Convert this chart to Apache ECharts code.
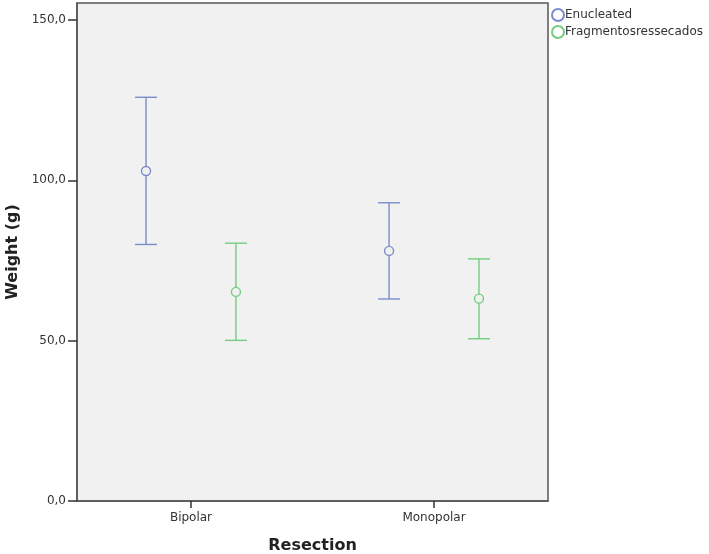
<!DOCTYPE html>
<html>
<head>
<meta charset="utf-8">
<script src="https://cdn.jsdelivr.net/npm/echarts@6/dist/echarts.min.js"></script>
<style>
  html, body { margin: 0; padding: 0; background: #fff; }
  #chart { width: 709px; height: 554px; }
</style>
</head>
<body>
<div id="chart"></div>
<script>
// categories on the x axis
const categories = ["Bipolar", "Monopolar"];
const seriesNames = ["Enucleated", "Fragmentosressecados"];
// mean, lower and upper limits per category
const enucleatedMean = [102.9, 78.0];
const enucleatedLow = [80.0, 63.0];
const enucleatedHigh = [125.9, 93.0];
const fragMean = [65.2, 63.1];
const fragLow = [50.1, 50.6];
const fragHigh = [80.4, 75.5];
const yTicks = [0, 50, 100, 150];

const colors = ["#7B8CCB", "#74CC80"];
const offsets = [-0.185, 0.185];

function buildData(mean, low, high) {
  return categories.map((c, i) => [i + 1, mean[i], low[i], high[i]]);
}

function makeRender(offset) {
  return function (params, api) {
    const x = api.value(0) + offset;
    const mid = api.coord([x, api.value(1)]);
    const lo = api.coord([x, api.value(2)]);
    const hi = api.coord([x, api.value(3)]);
    const style = { stroke: api.visual("color"), lineWidth: 1.4, fill: null };
    const cap = 11;
    const r = 4.5;
    return {
      type: "group",
      children: [
        { type: "line", shape: { x1: hi[0], y1: hi[1], x2: mid[0], y2: mid[1] - r }, style: style },
        { type: "line", shape: { x1: mid[0], y1: mid[1] + r, x2: lo[0], y2: lo[1] }, style: style },
        { type: "line", shape: { x1: hi[0] - cap, y1: hi[1], x2: hi[0] + cap, y2: hi[1] }, style: style },
        { type: "line", shape: { x1: lo[0] - cap, y1: lo[1], x2: lo[0] + cap, y2: lo[1] }, style: style },
        { type: "circle", shape: { cx: mid[0], cy: mid[1], r: r }, style: style }
      ]
    };
  };
}

const chart = echarts.init(document.getElementById("chart"));
chart.setOption({
  animation: false,
  textStyle: { fontFamily: "DejaVu Sans" },
  grid: {
    left: 77, right: 161, top: 3, bottom: 53,
    outerBoundsMode: "none",
    containLabel: false,
    show: true, backgroundColor: "#F1F1F1", borderColor: "#555", borderWidth: 1.5
  },
  legend: {
    orient: "vertical",
    left: 546, top: 3,
    itemGap: 3,
    itemWidth: 12, itemHeight: 12,
    icon: "emptyCircle",
    textStyle: { fontSize: 12, color: "#333", padding: [0, 0, 0, -4] },
    data: seriesNames
  },
  xAxis: {
    type: "value",
    min: 0.531, max: 2.469,
    splitLine: { show: false },
    axisLine: { show: true, lineStyle: { color: "#555", width: 1.5 } },
    axisTick: { show: true, customValues: [1, 2], length: 7, lineStyle: { color: "#333", width: 1.5 } },
    axisLabel: {
      customValues: [1, 2], margin: 11, fontSize: 12, color: "#333",
      formatter: v => categories[Math.round(v) - 1]
    },
    name: "Resection",
    nameLocation: "middle",
    nameGap: 37,
    nameTextStyle: { fontSize: 16, fontWeight: "bold", color: "#222" }
  },
  yAxis: {
    type: "value",
    min: 0, max: 155.3,
    splitLine: { show: false },
    axisLine: { show: true, lineStyle: { color: "#555", width: 1.5 } },
    axisTick: { show: true, customValues: yTicks, length: 9, lineStyle: { color: "#333", width: 1.5 } },
    axisLabel: {
      customValues: yTicks, margin: 11, fontSize: 12, color: "#333",
      formatter: v => v.toFixed(1).replace(".", ",")
    },
    name: "Weight (g)",
    nameLocation: "middle",
    nameGap: 54,
    nameTextStyle: { fontSize: 16, fontWeight: "bold", color: "#222" }
  },
  series: [
    {
      name: seriesNames[0], type: "custom", color: colors[0],
      renderItem: makeRender(offsets[0]),
      encode: { x: 0, y: [1, 2, 3] },
      data: buildData(enucleatedMean, enucleatedLow, enucleatedHigh)
    },
    {
      name: seriesNames[1], type: "custom", color: colors[1],
      renderItem: makeRender(offsets[1]),
      encode: { x: 0, y: [1, 2, 3] },
      data: buildData(fragMean, fragLow, fragHigh)
    }
  ]
});
</script>
</body>
</html>
